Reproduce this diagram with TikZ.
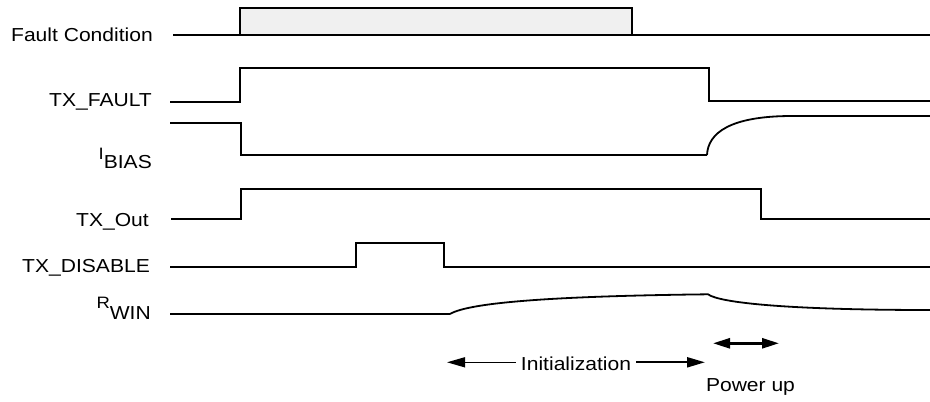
\documentclass[tikz,border=0pt]{standalone}
\usepackage{fontspec}
\setmainfont{Liberation Sans}[FakeStretch=1.12]
\usetikzlibrary{arrows.meta}
\begin{document}
\begin{tikzpicture}[x=1pt,y=-1pt,
  sig/.style={line width=2pt,line join=miter},
  crv/.style={line width=1.8pt},
  lbl/.style={inner sep=0pt,anchor=base east,font=\fontsize{18.8}{22}\selectfont},
  txt/.style={inner sep=0pt,anchor=base,font=\fontsize{18.8}{22}\selectfont},
  tip/.style={-{Triangle[length=18pt,width=10pt]}}]
\useasboundingbox (0,0) rectangle (930,402);
% labels
\node[lbl] (lfc) at (153,41) {Fault Condition};
\node[lbl] (ltf) at (152,106) {TX\_FAULT};
\node[lbl] (lib) at (152,159) {{\fontsize{16.5}{18}\selectfont I}\raisebox{-9pt}{BIAS}};
\node[lbl] (lto) at (149,226) {TX\_Out};
\node[lbl] (ltd) at (150,272.7) {TX\_DISABLE};
\node[lbl] (lrw) at (151,308.3) {{\fontsize{16.5}{18}\selectfont R}\raisebox{-11pt}{WIN}};
% Fault condition
\draw[sig,fill=black!6] (240,35) rectangle (632,8);
\draw[sig] (173,35) -- (930,35);
% TX_FAULT
\draw[sig] (170,102) -- (240,102) -- (240,68) -- (709,68) -- (709,101) -- (930,101);
% I_BIAS
\draw[sig] (170,123) -- (241,123) -- (241,155) -- (707,155);
\draw[crv] (707,155) .. controls (708,133) and (730,116) .. (792,116);
\draw[sig] (792,116) -- (930,116);
% TX_Out
\draw[sig] (171,219) -- (241,219) -- (241,189.3) -- (761,189.3) -- (761,219) -- (930,219);
% TX_DISABLE
\draw[sig] (170,266.7) -- (356,266.7) -- (356,242.7) -- (444,242.7) -- (444,266.7) -- (930,266.7);
% R_WIN
\draw[sig] (170,314) -- (450,314);
\draw[crv] (450,314) .. controls (470,302) and (560,296) .. (708,294.3)
  .. controls (720,303) and (790,310) .. (930,310);
% bottom annotations
\node[txt,inner xsep=5pt] (init) at (576,370.7) {Initialization};
\coordinate (initL) at (447,362.3);
\coordinate (initR) at (705,362.3);
\draw[tip,line width=1.4pt] (init.west |- initL) -- (initL);
\draw[tip,line width=2.2pt] (init.east |- initR) -- (initR);
\coordinate (pu1) at (713,343.3);
\coordinate (pu2) at (779,343.3);
\draw[{Triangle[length=17pt,width=10pt]}-{Triangle[length=17pt,width=10pt]},line width=2.6pt] (pu1) -- (pu2);
\node[txt] (pwr) at (750.5,391) {Power up};
\end{tikzpicture}
\end{document}
